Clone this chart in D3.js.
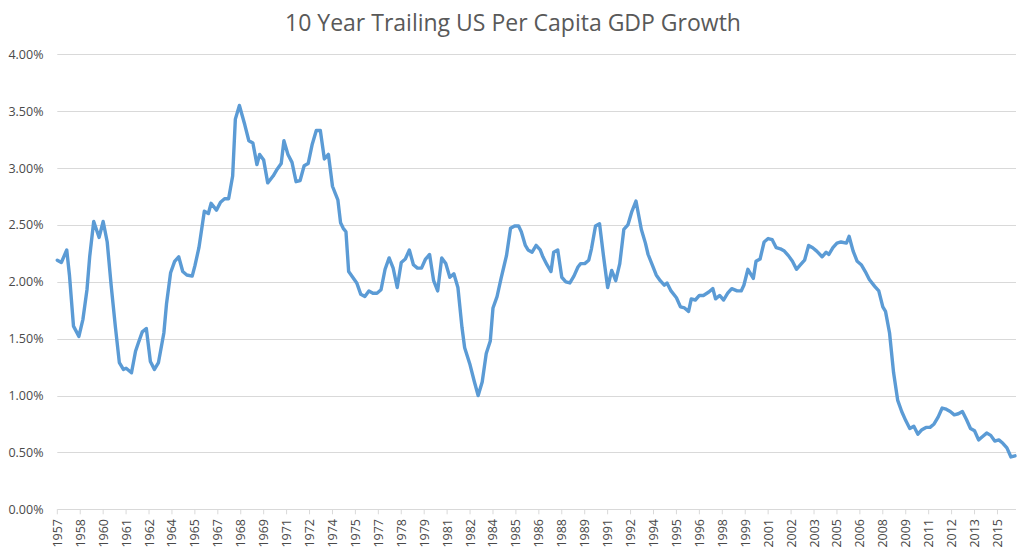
<!DOCTYPE html>
<html>
<head>
<meta charset="utf-8">
<script src="https://cdn.jsdelivr.net/npm/d3@7"></script>
<style>
  body { margin: 0; background: #fff; }
  text { font-family: "Open Sans", "Liberation Sans", sans-serif; fill: #595959; }
</style>
</head>
<body>
<div id="chart-area"></div>
<script>
// months counted from March 1957 (one category per month, 711 in all)
var monthIndex = [0,3,7,9,12,16,19,22,24,27,31,34,37,40,43,46,49,51,55,58,60,63,66,69,72,75,79,81,84,87,90,93,96,100,102,
    105,109,112,114,118,121,124,127,130,132,135,139,142,145,148,150,153,156,160,163,166,168,171,174,177,180,183,186,189,192,195,198,
    201,204,206,208,210,212,214,216,219,222,225,228,231,234,237,240,243,246,249,252,255,258,261,264,267,270,273,276,279,282,285,288,291,294,297,
    300,302,306,309,312,315,318,321,323,326,329,331,333,336,339,342,344,347,349,352,355,358,360,363,366,368,371,374,377,380,383,386,388,391,394,396,399,
    402,405,408,411,414,417,420,423,426,429,433,436,438,441,444,447,450,452,455,459,462,465,468,470,473,476,479,483,486,488,491,494,497,
    500,504,507,509,512,516,518,521,524,527,530,533,536,539,542,545,548,551,554,557,560,563,567,570,572,575,578,581,585,587,590,593,596,599,
    602,606,609,612,614,617,620,623,626,629,632,635,638,641,644,647,650,653,656,659,662,665,668,671,674,677,680,683,686,689,692,695,698,
    701,704,707,710];

// 10 year trailing growth, percent
var growth = [2.19,2.17,2.28,2.06,1.61,1.52,1.67,1.93,2.22,2.53,2.39,2.53,2.35,1.96,1.61,1.29,1.23,1.24,1.20,1.39,1.46,1.56,1.59,1.30,1.23,1.29,1.55,1.81,2.08,2.18,2.22,2.09,2.06,2.05,2.14,
    2.30,2.62,2.60,2.69,2.63,2.70,2.73,2.73,2.93,3.43,3.55,3.38,3.24,3.22,3.03,3.12,3.07,2.87,2.93,2.99,3.04,3.24,3.12,3.05,2.88,2.89,3.02,3.04,3.21,3.33,3.33,3.08,
    3.12,2.84,2.78,2.72,2.52,2.47,2.44,2.09,2.04,1.99,1.89,1.87,1.92,1.90,1.90,1.93,2.11,2.21,2.12,1.95,2.17,2.20,2.28,2.15,2.12,2.12,2.20,2.24,2.01,1.92,2.21,2.16,2.04,2.07,1.95,
    1.60,1.42,1.27,1.13,1.00,1.12,1.37,1.48,1.77,1.87,2.03,2.13,2.23,2.47,2.49,2.49,2.44,2.32,2.28,2.26,2.32,2.28,2.22,2.15,2.09,2.26,2.28,2.04,2.00,1.99,2.05,2.13,2.16,2.16,2.19,2.29,2.49,
    2.51,2.22,1.95,2.10,2.01,2.16,2.46,2.50,2.62,2.71,2.46,2.34,2.24,2.15,2.06,2.01,1.97,1.99,1.92,1.86,1.78,1.77,1.74,1.85,1.84,1.88,1.88,1.91,1.94,1.85,1.88,1.84,1.90,
    1.94,1.92,1.92,1.97,2.11,2.03,2.18,2.20,2.35,2.38,2.37,2.30,2.29,2.27,2.23,2.18,2.11,2.15,2.19,2.32,2.30,2.27,2.22,2.26,2.24,2.30,2.34,2.35,2.34,2.40,2.27,2.18,2.15,2.09,
    2.02,1.96,1.92,1.78,1.74,1.55,1.20,0.96,0.86,0.78,0.71,0.73,0.66,0.70,0.72,0.72,0.75,0.81,0.89,0.88,0.86,0.83,0.84,0.86,0.79,0.71,0.69,0.61,0.64,0.67,0.65,0.60,0.61,
    0.58,0.54,0.46,0.47];

// Excel shows a year label on every 17th month
var tickYears = [1957,1958,1960,1961,1962,1964,1965,1967,1968,1969,1971,1972,1974,1975,1977,1978,1979,1981,1982,1984,1985,
    1986,1988,1989,1991,1992,1994,1995,1996,1998,1999,2001,2002,2003,2005,2006,2008,2009,2011,2012,2013,2015];
var labelEvery = 17;
var lastMonth = 710;
var yTicks = [0, 0.5, 1, 1.5, 2, 2.5, 3, 3.5, 4];

var svg = d3.select("#chart-area")
    .append("svg")
    .attr("width", 1024)
    .attr("height", 558);

var x = d3.scaleLinear()
    .domain([0, lastMonth])
    .range([57.3, 1015]);

var y = d3.scaleLinear()
    .domain([0, 4])
    .range([509.3, 54.3]);

// title
svg.append("text")
    .attr("x", 513)
    .attr("y", 31)
    .attr("text-anchor", "middle")
    .attr("font-size", "23px")
    .text("10 Year Trailing US Per Capita GDP Growth");

// gridlines
svg.selectAll(".grid")
    .data(yTicks)
    .enter()
    .append("line")
    .attr("x1", 57.3)
    .attr("x2", 1016)
    .attr("y1", d => Math.round(y(d)) + 0.5)
    .attr("y2", d => Math.round(y(d)) + 0.5)
    .attr("stroke", "#d9d9d9")
    .attr("stroke-width", 1);

// y labels
svg.selectAll(".ylab")
    .data(yTicks)
    .enter()
    .append("text")
    .attr("x", 43.5)
    .attr("y", d => y(d))
    .attr("dy", "0.36em")
    .attr("text-anchor", "end")
    .attr("font-size", "12.5px")
    .style("fill", "#4a4a4a")
    .text(d => d3.format(".2f")(d) + "%");

// x tick marks and rotated year labels
var ticks = svg.selectAll(".xtick")
    .data(tickYears)
    .enter()
    .append("g")
    .attr("transform", (d, i) => "translate(" + x(i * labelEvery) + ",0)");

ticks.append("line")
    .attr("y1", y(0))
    .attr("y2", y(0) + 5)
    .attr("stroke", "#d9d9d9");

ticks.append("text")
    .attr("transform", "translate(0,519) rotate(-90)")
    .attr("text-anchor", "end")
    .attr("dy", "0.36em")
    .attr("font-size", "12.5px")
    .style("fill", "#4a4a4a")
    .text(d => d);

// the series
var data = monthIndex.map((m, i) => ({ m: m, v: growth[i] }));

var line = d3.line()
    .x(d => x(d.m))
    .y(d => y(d.v));

svg.append("path")
    .datum(data)
    .attr("d", line)
    .attr("fill", "none")
    .attr("stroke", "#5b9bd5")
    .attr("stroke-width", 3.4)
    .attr("stroke-linejoin", "round")
    .attr("stroke-linecap", "round");
</script>
</body>
</html>
